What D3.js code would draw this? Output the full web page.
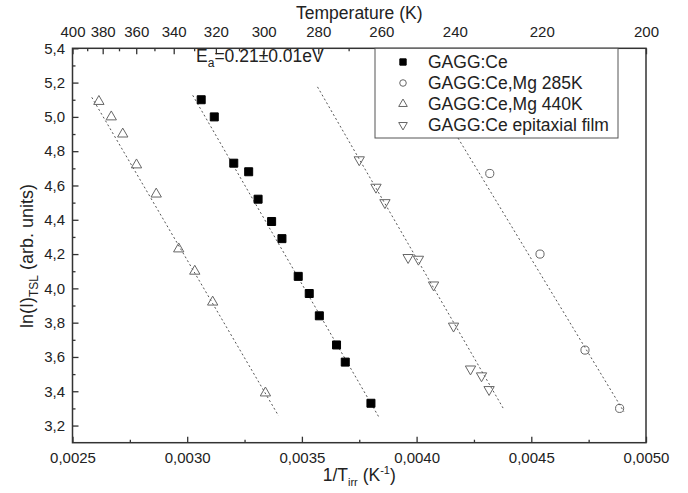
<!DOCTYPE html>
<html>
<head>
<meta charset="utf-8">
<script src="https://cdn.jsdelivr.net/npm/d3@7"></script>
<style>
  body { margin: 0; background: #fff; }
  text { font-family: "Liberation Sans", Arial, sans-serif; fill: #222; }
</style>
</head>
<body>
<svg id="chart" width="688" height="493"></svg>
<script>

// GAGG:Ce (filled squares)
var ceX = [0.003061, 0.003118, 0.003203, 0.003268, 0.003309, 0.003368, 0.003413,
           0.003484, 0.003532, 0.003576, 0.003651, 0.003689, 0.003801];
var ceY = [5.10, 5.00, 4.73, 4.68, 4.52, 4.39, 4.29, 4.07, 3.97, 3.84, 3.67, 3.57, 3.33];

// GAGG:Ce,Mg 285K (open circles)
var mg285X = [0.004319, 0.004538, 0.004734, 0.004885];
var mg285Y = [4.67, 4.20, 3.64, 3.30];

// GAGG:Ce,Mg 440K (open up triangles)
var mg440X = [0.002615, 0.002669, 0.002719, 0.002779, 0.002865, 0.002963, 0.003033, 0.003111, 0.003341];
var mg440Y = [5.09, 5.00, 4.90, 4.72, 4.55, 4.23, 4.10, 3.92, 3.39];

// GAGG:Ce epitaxial film (open down triangles)
var filmX = [0.003750, 0.003823, 0.003862, 0.003963, 0.004008, 0.004074, 0.004161, 0.004235, 0.004283, 0.004316];
var filmY = [4.75, 4.59, 4.50, 4.18, 4.17, 4.02, 3.78, 3.53, 3.49, 3.41];

// dotted linear fits, [x, y] end points
var fitCe = [[0.003024, 5.126], [0.003834, 3.253]];
var fitMg285 = [[0.004150, 4.944], [0.004904, 3.280]];
var fitMg440 = [[0.002584, 5.114], [0.003398, 3.257]];
var fitFilm = [[0.003568, 5.175], [0.004377, 3.302]];

var legendNames = ["GAGG:Ce", "GAGG:Ce,Mg 285K", "GAGG:Ce,Mg 440K", "GAGG:Ce epitaxial film"];

var xTicks = [0.0025, 0.0030, 0.0035, 0.0040, 0.0045, 0.0050];
var xMinor = [0.00275, 0.00325, 0.00375, 0.00425, 0.00475];
var yTicks = [3.2, 3.4, 3.6, 3.8, 4.0, 4.2, 4.4, 4.6, 4.8, 5.0, 5.2, 5.4];
var yMinor = [3.3, 3.5, 3.7, 3.9, 4.1, 4.3, 4.5, 4.7, 4.9, 5.1, 5.3];
var tempTicks = [400, 380, 360, 340, 320, 300, 280, 260, 240, 220, 200];
var tempMinor = [390, 370, 350, 330, 310, 290, 270, 250, 230, 210];

var pLeft = 72.5, pRight = 646, pTop = 48.3, pBottom = 442.7;

var svg = d3.select("#chart");

var x = d3.scaleLinear().domain([0.0025, 0.0050]).range([pLeft, pRight]);
var y = d3.scaleLinear().domain([3.1, 5.4]).range([pBottom, pTop]);

var locale = d3.formatLocale({decimal: ",", thousands: ".", grouping: [3], currency: ["", ""]});
var fmtX = locale.format(".4f");
var fmtY = locale.format(".1f");

var axisColor = "#333";
var markColor = "#666";

function styleAxis(g, size) {
  g.attr("font-size", size).attr("font-family", "'Liberation Sans', Arial, sans-serif");
  g.select(".domain").remove();
  g.selectAll("line").attr("stroke", axisColor).attr("stroke-width", 1.3);
  g.selectAll("text").attr("fill", "#222");
}

// bottom axis
svg.append("g").attr("transform", "translate(0," + pBottom + ")")
  .call(d3.axisBottom(x).tickValues(xTicks).tickFormat(fmtX).tickSize(-6).tickPadding(10))
  .call(styleAxis, 15);
svg.append("g").attr("transform", "translate(0," + pBottom + ")")
  .call(d3.axisBottom(x).tickValues(xMinor).tickFormat("").tickSize(-3))
  .call(styleAxis, 15);

// left axis
svg.append("g").attr("transform", "translate(" + pLeft + ",0)")
  .call(d3.axisLeft(y).tickValues(yTicks).tickFormat(fmtY).tickSize(-6).tickPadding(7.5))
  .call(styleAxis, 15);
svg.append("g").attr("transform", "translate(" + pLeft + ",0)")
  .call(d3.axisLeft(y).tickValues(yMinor).tickFormat("").tickSize(-3))
  .call(styleAxis, 15);

// top axis: temperature = 1 / x
svg.append("g").attr("transform", "translate(0," + pTop + ")")
  .call(d3.axisTop(x).tickValues(tempTicks.map(function(t){ return 1 / t; }))
    .tickFormat(function(v){ return Math.round(1 / v); }).tickSize(-6).tickPadding(11.6))
  .call(styleAxis, 15);
svg.append("g").attr("transform", "translate(0," + pTop + ")")
  .call(d3.axisTop(x).tickValues(tempMinor.map(function(t){ return 1 / t; })).tickFormat("").tickSize(-3))
  .call(styleAxis, 15);

// frame
svg.append("rect")
  .attr("x", pLeft).attr("y", pTop)
  .attr("width", pRight - pLeft).attr("height", pBottom - pTop)
  .attr("fill", "none").attr("stroke", axisColor).attr("stroke-width", 1.5);

// fit lines
var line = d3.line().x(function(d){ return x(d[0]); }).y(function(d){ return y(d[1]); });
[fitCe, fitMg285, fitMg440, fitFilm].forEach(function(f) {
  svg.append("path").attr("d", line(f))
    .attr("fill", "none").attr("stroke", "#555").attr("stroke-width", 1)
    .attr("stroke-dasharray", "2,2.5");
});

// markers
var sqSym = d3.symbol().type(d3.symbolSquare).size(64);
var circSym = d3.symbol().type(d3.symbolCircle).size(52);
var triSym = d3.symbol().type(d3.symbolTriangle).size(46);

function drawSeries(xs, ys, sym, fill, stroke, rot) {
  svg.append("g").selectAll("path")
    .data(xs.map(function(v, i){ return [v, ys[i]]; }))
    .enter().append("path")
    .attr("d", sym)
    .attr("transform", function(d){ return "translate(" + x(d[0]) + "," + y(d[1]) + ") rotate(" + rot + ")"; })
    .attr("fill", fill).attr("stroke", stroke).attr("stroke-width", 1);
}

drawSeries(ceX, ceY, sqSym, "#000", "#000", 0);
drawSeries(mg285X, mg285Y, circSym, "none", markColor, 0);
drawSeries(mg440X, mg440Y, triSym, "none", markColor, 0);
drawSeries(filmX, filmY, triSym, "none", markColor, 180);

// legend
var lg = svg.append("g");
lg.append("rect").attr("x", 375).attr("y", pTop).attr("width", 243).attr("height", 138 - pTop)
  .attr("fill", "#fff").attr("stroke", "#555").attr("stroke-width", 1);
var legSyms = [
  {sym: d3.symbol().type(d3.symbolSquare).size(40), fill: "#000", stroke: "#000", rot: 0},
  {sym: d3.symbol().type(d3.symbolCircle).size(34), fill: "none", stroke: markColor, rot: 0},
  {sym: d3.symbol().type(d3.symbolTriangle).size(32), fill: "none", stroke: markColor, rot: 0},
  {sym: d3.symbol().type(d3.symbolTriangle).size(32), fill: "none", stroke: markColor, rot: 180}
];
legendNames.forEach(function(name, i) {
  var cy = 62 + i * 21;
  lg.append("path").attr("d", legSyms[i].sym)
    .attr("transform", "translate(403," + cy + ") rotate(" + legSyms[i].rot + ")")
    .attr("fill", legSyms[i].fill).attr("stroke", legSyms[i].stroke).attr("stroke-width", 1);
  lg.append("text").attr("x", 428).attr("y", cy + 6).attr("font-size", 17.5).text(name);
});

// activation energy label
var ea = svg.append("text").attr("x", 196).attr("y", 62).attr("font-size", 17.5);
ea.append("tspan").text("E");
ea.append("tspan").attr("font-size", 12).attr("dy", 5).text("a");
ea.append("tspan").attr("dy", -5).text("=0.21\u00b10.01eV");

// axis titles
svg.append("text").attr("x", (pLeft + pRight) / 2).attr("y", 19)
  .attr("text-anchor", "middle").attr("font-size", 17.5).text("Temperature (K)");

var xt = svg.append("text").attr("x", (pLeft + pRight) / 2).attr("y", 481)
  .attr("text-anchor", "middle").attr("font-size", 17.5);
xt.append("tspan").text("1/T");
xt.append("tspan").attr("font-size", 11).attr("dy", 5).text("irr");
xt.append("tspan").attr("dy", -5).text(" (K");
xt.append("tspan").attr("font-size", 11).attr("dy", -7).text("-1");
xt.append("tspan").attr("dy", 7).text(")");

var yt = svg.append("text").attr("transform", "translate(33,256) rotate(-90)")
  .attr("text-anchor", "middle").attr("font-size", 18);
yt.append("tspan").text("ln(I)");
yt.append("tspan").attr("font-size", 12).attr("dy", 5).text("TSL");
yt.append("tspan").attr("dy", -5).text(" (arb. units)");

</script>
</body>
</html>
